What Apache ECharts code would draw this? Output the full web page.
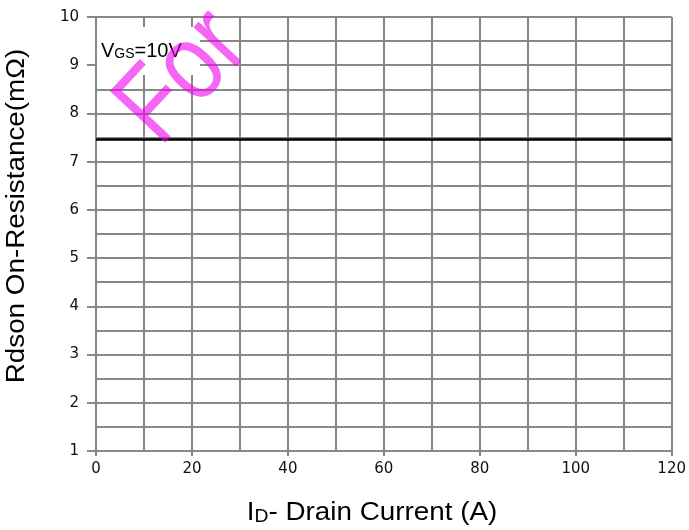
<!DOCTYPE html>
<html>
<head>
<meta charset="utf-8">
<script src="https://cdn.jsdelivr.net/npm/echarts@6/dist/echarts.min.js"></script>
<style>
html,body{margin:0;padding:0;background:#fff;}
#chart{width:689px;height:530px;}
</style>
</head>
<body>
<div id="chart"></div>
<script>
// Data
const drainCurrentA = [0, 120];
const rdsonMOhm = [7.46, 7.46];
const xAxisRange = [0, 120];
const yAxisRange = [1, 10];
const xTickStep = 20;
const yTickStep = 1;

const FONT = '"Liberation Sans", Arial, sans-serif';
const LABEL_FONT = '"DejaVu Sans", "Liberation Sans", sans-serif';
const GRID_COLOR = '#888888';

const chart = echarts.init(document.getElementById('chart'));
const points = drainCurrentA.map((x, i) => [x, rdsonMOhm[i]]);

chart.setOption({
  backgroundColor: '#ffffff',
  animation: false,
  grid: { left: 96, right: 16, top: 17, bottom: 79, containLabel: false },
  xAxis: {
    type: 'value',
    min: xAxisRange[0], max: xAxisRange[1], interval: xTickStep,
    axisLine: { show: true, lineStyle: { color: GRID_COLOR, width: 2 } },
    axisTick: { show: true, length: 5, lineStyle: { color: GRID_COLOR, width: 2 } },
    minorTick: { show: false, splitNumber: 2 },
    axisLabel: { color: '#111', fontFamily: LABEL_FONT, fontSize: 15, margin: 11 },
    splitLine: { show: true, lineStyle: { color: GRID_COLOR, width: 2 } },
    minorSplitLine: { show: true, lineStyle: { color: GRID_COLOR, width: 2 } }
  },
  yAxis: {
    type: 'value',
    min: yAxisRange[0], max: yAxisRange[1], interval: yTickStep,
    axisLine: { show: true, lineStyle: { color: GRID_COLOR, width: 2 } },
    axisTick: { show: true, length: 9, lineStyle: { color: GRID_COLOR, width: 2 } },
    minorTick: { show: false, splitNumber: 2 },
    axisLabel: { color: '#111', fontFamily: LABEL_FONT, fontSize: 15, margin: 17 },
    splitLine: { show: true, lineStyle: { color: GRID_COLOR, width: 2 } },
    minorSplitLine: { show: true, lineStyle: { color: GRID_COLOR, width: 2 } }
  },
  series: [{
    type: 'line',
    data: points,
    showSymbol: false,
    symbol: 'none',
    z: 3,
    lineStyle: { color: '#000', width: 2.5 }
  }],
  graphic: [
    { type: 'rect', z: 1, shape: { x: 97, y: 27, width: 103, height: 48 }, style: { fill: '#fff' }, silent: true },
    {
      type: 'text', z: 5, x: 101, y: 41,
      style: {
        text: '{a|V}{b|GS}{a|=10V}',
        textVerticalAlign: 'top',
        rich: {
          a: { fontSize: 20, lineHeight: 20, fontFamily: FONT, fill: '#000', verticalAlign: 'bottom' },
          b: { fontSize: 14, lineHeight: 12, fontFamily: FONT, fill: '#000', verticalAlign: 'bottom' }
        }
      }
    },
    {
      type: 'text', z: 10, x: 184, y: 78, rotation: 47 * Math.PI / 180, scaleX: 1, scaleY: 1.22,
      style: {
        text: 'For', fontSize: 90, fontFamily: FONT,
        fill: 'rgba(240,0,240,0.6)', textAlign: 'center', textVerticalAlign: 'middle'
      }
    },
    {
      type: 'text', z: 5, x: 17, y: 216, rotation: Math.PI / 2, scaleX: 1.07, scaleY: 1,
      style: {
        text: 'Rdson On-Resistance(mΩ)', fontSize: 26, fontFamily: FONT,
        fill: '#000', textAlign: 'center', textVerticalAlign: 'middle'
      }
    },
    {
      type: 'text', z: 5, x: 372, y: 513, scaleX: 1.07, scaleY: 1,
      style: {
        text: '{a|I}{b|D}{a|- Drain Current (A)}',
        textAlign: 'center', textVerticalAlign: 'middle',
        rich: {
          a: { fontSize: 26, lineHeight: 26, fontFamily: FONT, fill: '#000', verticalAlign: 'bottom' },
          b: { fontSize: 18, lineHeight: 16, fontFamily: FONT, fill: '#000', verticalAlign: 'bottom' }
        }
      }
    }
  ]
});
</script>
</body>
</html>
